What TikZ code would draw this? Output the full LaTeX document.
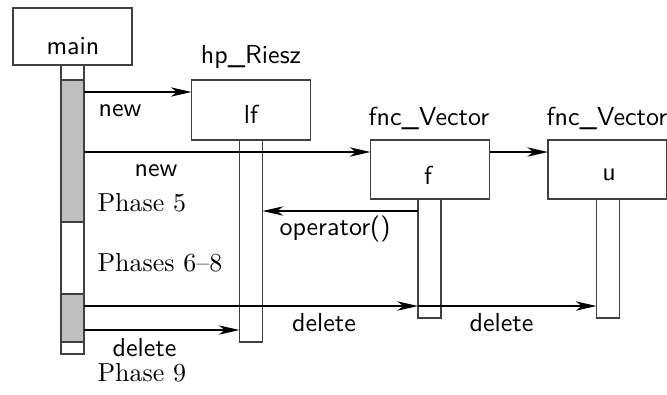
\documentclass[tikz,border=0pt]{standalone}
\usetikzlibrary{arrows.meta}
\begin{document}
\begin{tikzpicture}[x=0.3846pt,y=-0.3846pt,
  obj/.style={draw=black!75, line width=0.5pt, inner sep=0pt, outer sep=0pt, minimum width=45.77pt},
  bar/.style={draw=black!75, line width=0.5pt, inner sep=0pt, outer sep=0pt, minimum width=8.85pt},
  act/.style={bar, fill=black!25},
  sf/.style={font=\sffamily, anchor=base, inner sep=0pt},
  rm/.style={font=\rmfamily, anchor=base west, inner sep=0pt},
  msg/.style={line width=0.45pt, -{Stealth[length=8pt,width=3.6pt,inset=2.4pt]}}]
\useasboundingbox (0,0) rectangle (667,394);
\clip (0,0) rectangle (667,394);
% objects
\node[obj, minimum height=21.92pt] (main) at (72.5,36.5) {};
\node[obj, minimum height=23.08pt] (lf) at (251,110) {};
\node[obj, minimum height=22.69pt] (f) at (430,169.5) {};
\node[obj, minimum height=22.69pt] (u) at (607.5,169.5) {};
\node[sf] (tmain) at (73,54) {main};
\node[sf] (tlf) at (251,123) {lf};
\node[sf] (tf) at (428,184) {f};
\node[sf] (tu) at (609,180.7) {u};
\node[sf] (chp) at (251,63.3) {hp\_Riesz};
\node[sf] (cf) at (429,125) {fnc\_Vector};
\node[sf] (cu) at (607,125) {fnc\_Vector};
% lifelines
\node[bar, minimum height=111.15pt] (mainbar) at (72.5,209.5) {};
\node[act, minimum height=54.61pt] (act1) at (72.5,151) {};
\node[act, minimum height=18.46pt] (act2) at (72.5,318) {};
\node[bar, minimum height=77.69pt] (lfbar) at (251,241) {};
\node[bar, minimum height=45.77pt] (fbar) at (429.5,258.5) {};
\node[bar, minimum height=45.77pt] (ubar) at (608,258.5) {};
% messages
\draw[msg] (mainbar.east |- 0,92) -- (lf.west |- 0,92);
\draw[msg] (mainbar.east |- 0,152) -- (f.west |- 0,152);
\draw[msg] (f.east |- 0,152) -- (u.west |- 0,152);
\draw[msg] (fbar.west |- 0,211) -- (lfbar.east |- 0,211);
\draw[msg] (mainbar.east |- 0,306) -- (fbar.west |- 0,306);
\draw[msg] (fbar.west |- 0,306) -- (ubar.west |- 0,306);
\draw[msg] (mainbar.east |- 0,330) -- (lfbar.west |- 0,330);
% labels
\node[sf] (l1) at (120,116) {new};
\node[sf] (l2) at (156,176) {new};
\node[sf, anchor=base west] (l3) at (279,235) {operator()};
\node[sf] (l4) at (324,331.7) {delete};
\node[sf] (l5) at (501.5,331.7) {delete};
\node[sf] (l6) at (144.5,356.7) {delete};
\node[rm] (p5) at (97,211.7) {Phase 5};
\node[rm] (p68) at (97,271) {Phases 6--8};
\node[rm] (p9) at (97,381.7) {Phase 9};
\end{tikzpicture}
\end{document}
